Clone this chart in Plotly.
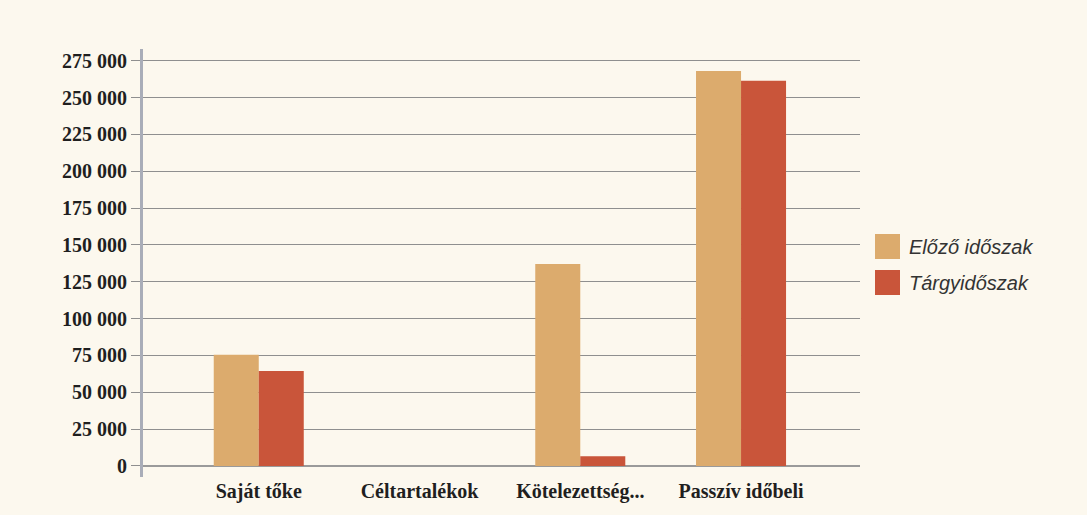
import plotly.graph_objects as go

categories = ["Saját tőke", "Céltartalékok", "Kötelezettség...", "Passzív időbeli"]
elozo = [75500, 0, 137000, 268000]
targy = [64500, 0, 6500, 261500]
series_names = ["Előző időszak", "Tárgyidőszak"]
series_colors = ["#dcab6d", "#c9553a"]
tick_vals = [0, 25000, 50000, 75000, 100000, 125000, 150000, 175000, 200000, 225000, 250000, 275000]

W, H = 1087, 515
L, R, T, B = 143, 227, 49, 38
pw, ph = W - L - R, H - T - B

def px(x):
    return (x - L) / pw

def py(y):
    return (H - B - y) / ph

bg = "#fcf8ee"
fig = go.Figure()
for name, vals, col in zip(series_names, [elozo, targy], series_colors):
    fig.add_trace(go.Bar(x=categories, y=vals, name=name, showlegend=False,
                         marker=dict(color=col, line=dict(width=0))))

# legend drawn with large square swatches as in the reference
for i, (name, col) in enumerate(zip(series_names, series_colors)):
    top = 234 + i * 36
    fig.add_shape(type="rect", xref="paper", yref="paper",
                  x0=px(875), x1=px(900), y0=py(top), y1=py(top + 25),
                  fillcolor=col, line=dict(width=0))
    fig.add_annotation(xref="paper", yref="paper", x=px(907), y=py(top + 13),
                       xanchor="left", yanchor="middle", text=name, showarrow=False,
                       font=dict(family="Liberation Sans", size=20, color="#333333", style="italic"))

fig.update_layout(
    width=W, height=H,
    margin=dict(l=L, r=R, t=T, b=B),
    paper_bgcolor=bg, plot_bgcolor=bg,
    barmode="group", bargap=0.44, bargroupgap=0,
    separators=", ",
    xaxis=dict(range=[-0.72, 3.74], showgrid=False, showline=False, ticks="",
               tickfont=dict(family="Liberation Serif", size=20, color="#1f1f1f", weight="bold")),
    yaxis=dict(range=[-7500, 283000], tickvals=tick_vals, tickformat=",d",
               showgrid=True, gridcolor="#8f8f8f", gridwidth=1,
               zeroline=True, zerolinecolor="#9a9a9a", zerolinewidth=2,
               showline=True, linecolor="#a9adb8", linewidth=3,
               ticks="outside", ticklen=9, tickcolor="#8f8f8f", tickwidth=1,
               tickfont=dict(family="Liberation Serif", size=20, color="#1f1f1f", weight="bold")),
)

fig.write_html("out.html", config={"displayModeBar": False},
               post_script="document.body.style.margin='0';document.body.style.background='#fcf8ee';")
